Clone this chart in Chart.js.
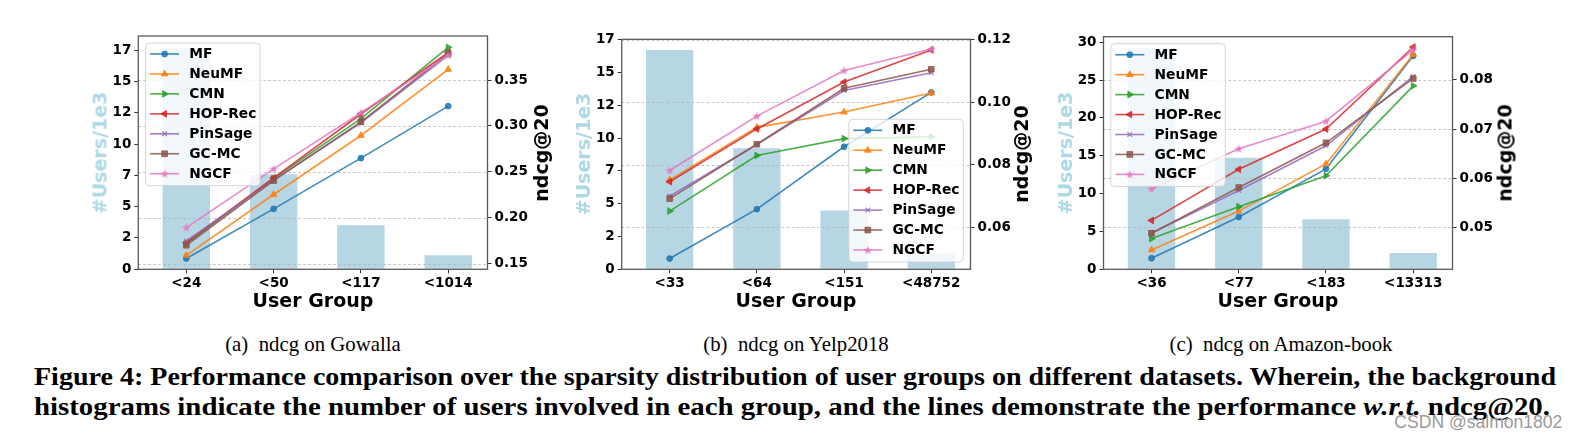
<!DOCTYPE html>
<html>
<head>
<meta charset="utf-8">
<script src="https://cdn.jsdelivr.net/npm/chart.js@4.4.1/dist/chart.umd.min.js"></script>
<style>
html,body{margin:0;padding:0;background:#fff;}
body{width:1584px;height:439px;position:relative;overflow:hidden;}
canvas{position:absolute;top:0;}
.ax{position:absolute;font-family:'DejaVu Sans';font-weight:bold;font-size:19px;white-space:nowrap;line-height:1;color:#000;}
.rot{transform:translate(-50%,-50%) rotate(-90deg);}
.hor{transform:translate(-50%,-50%);}
.users{color:#add8e6;}
.sub{position:absolute;font-family:'Liberation Serif';font-size:21px;white-space:nowrap;line-height:1;color:#000;}
.fig{position:absolute;font-family:'Liberation Serif';font-weight:bold;font-size:26px;white-space:nowrap;line-height:1;color:#000;transform-origin:0 50%;}
.wm{position:absolute;font-family:'Liberation Sans';font-size:18px;white-space:nowrap;line-height:1;color:#9a9a9a;transform-origin:100% 50%;}
</style>
</head>
<body>
<canvas id="c1" width="510" height="320" style="left:40px;width:510px;height:320px"></canvas>
<canvas id="c2" width="480" height="320" style="left:560px;width:480px;height:320px"></canvas>
<canvas id="c3" width="480" height="320" style="left:1045px;width:480px;height:320px"></canvas>

<div class="ax rot users" style="left:100px;top:152.5px">#Users/1e3</div>
<div class="ax rot" style="left:541px;top:152.5px">ndcg@20</div>
<div class="ax hor" style="left:313px;top:300px">User Group</div>

<div class="ax rot users" style="left:582.5px;top:154.3px">#Users/1e3</div>
<div class="ax rot" style="left:1021px;top:154.3px">ndcg@20</div>
<div class="ax hor" style="left:796px;top:300px">User Group</div>

<div class="ax rot users" style="left:1065px;top:153px">#Users/1e3</div>
<div class="ax rot" style="left:1504.5px;top:153px">ndcg@20</div>
<div class="ax hor" style="left:1278px;top:300px">User Group</div>

<div class="sub" id="subA" style="left:313px;top:343.5px">(a)&nbsp; ndcg on Gowalla</div>
<div class="sub" id="subB" style="left:796px;top:343.5px">(b)&nbsp; ndcg on Yelp2018</div>
<div class="sub" id="subC" style="left:1281px;top:343.5px">(c)&nbsp; ndcg on Amazon-book</div>

<div class="fig" id="fig1" style="left:34px;top:377px">Figure 4: Performance comparison over the sparsity distribution of user groups on different datasets. Wherein, the background</div>
<div class="fig" id="fig2" style="left:34px;top:407px">histograms indicate the number of users involved in each group, and the lines demonstrate the performance <i>w.r.t.</i> ndcg@20.</div>
<div class="wm" id="wm" style="right:22px;top:413px">CSDN @salmon1802</div>

<script>
// ---------------- data ----------------
const methodNames = ['MF', 'NeuMF', 'CMN', 'HOP-Rec', 'PinSage', 'GC-MC', 'NGCF'];

// (a) Gowalla
const gowallaGroups = ['<24', '<50', '<117', '<1014'];
const gowallaUsers = [17.13, 7.37, 3.42, 1.09];
const gowallaMF      = [0.1555, 0.2096, 0.2649, 0.3216];
const gowallaNeuMF   = [0.1590, 0.2253, 0.2896, 0.3616];
const gowallaCMN     = [0.1718, 0.2427, 0.3080, 0.3856];
const gowallaHOPRec  = [0.1730, 0.2435, 0.3130, 0.3800];
const gowallaPinSage = [0.1747, 0.2410, 0.3035, 0.3770];
const gowallaGCMC    = [0.1700, 0.2405, 0.3045, 0.3790];
const gowallaNGCF    = [0.1893, 0.2533, 0.3144, 0.3770];
const gowallaUserTicks = [0, 2.43, 4.86, 7.29, 9.71, 12.14, 14.57, 17];
const gowallaUserTickLabels = ['0', '2', '5', '7', '10', '12', '15', '17'];
const gowallaNdcgTicks = [0.15, 0.20, 0.25, 0.30, 0.35];

// (b) Yelp2018
const yelpGroups = ['<33', '<64', '<151', '<48752'];
const yelpUsers = [16.26, 8.97, 4.35, 1.19];
const yelpMF      = [0.0500, 0.0658, 0.0858, 0.1032];
const yelpNeuMF   = [0.0752, 0.0920, 0.0969, 0.1030];
const yelpCMN     = [0.0652, 0.0830, 0.0884, 0.0890];
const yelpHOPRec  = [0.0746, 0.0915, 0.1065, 0.1168];
const yelpPinSage = [0.0700, 0.0865, 0.1038, 0.1095];
const yelpGCMC    = [0.0692, 0.0866, 0.1045, 0.1106];
const yelpNGCF    = [0.0782, 0.0956, 0.1102, 0.1171];
const yelpUserTicks = [0, 2.43, 4.86, 7.29, 9.71, 12.14, 14.57, 17];
const yelpUserTickLabels = ['0', '2', '5', '7', '10', '12', '15', '17'];
const yelpNdcgTicks = [0.06, 0.08, 0.10, 0.12];

// (c) Amazon-book
const amazonGroups = ['<36', '<77', '<183', '<13313'];
const amazonUsers = [29.2, 14.75, 6.6, 2.15];
const amazonMF      = [0.0437, 0.0521, 0.0619, 0.0849];
const amazonNeuMF   = [0.0454, 0.0533, 0.0629, 0.0852];
const amazonCMN     = [0.0477, 0.0542, 0.0605, 0.0788];
const amazonHOPRec  = [0.0514, 0.0618, 0.0700, 0.0867];
const amazonPinSage = [0.0488, 0.0575, 0.0666, 0.0807];
const amazonGCMC    = [0.0488, 0.0581, 0.0672, 0.0803];
const amazonNGCF    = [0.0578, 0.0660, 0.0716, 0.0861];
const amazonUserTicks = [0, 5, 10, 15, 20, 25, 30];
const amazonUserTickLabels = ['0', '5', '10', '15', '20', '25', '30'];
const amazonNdcgTicks = [0.05, 0.06, 0.07, 0.08];

// ---------------- styles ----------------
const lineColors = ['rgba(31,119,180,0.85)', 'rgba(255,127,14,0.85)', 'rgba(44,160,44,0.85)',
  'rgba(214,39,40,0.85)', 'rgba(148,103,189,0.85)', 'rgba(140,86,75,0.85)', 'rgba(227,119,194,0.85)'];

function makeStar(color) {
  const c = document.createElement('canvas');
  c.width = 10; c.height = 10;
  const x = c.getContext('2d');
  x.fillStyle = color;
  x.beginPath();
  for (let i = 0; i < 10; i++) {
    const r = i % 2 ? 1.9 : 4.6;
    const a = -Math.PI / 2 + i * Math.PI / 5;
    x.lineTo(5 + r * Math.cos(a), 5.4 + r * Math.sin(a));
  }
  x.closePath();
  x.fill();
  return c;
}
const starImg = makeStar(lineColors[6]);

const markerStyles = [
  { pointStyle: 'circle', radius: 2.9, rotation: 0, bw: 1 },
  { pointStyle: 'triangle', radius: 3.8, rotation: 0, bw: 1 },
  { pointStyle: 'triangle', radius: 3.8, rotation: 90, bw: 1 },
  { pointStyle: 'triangle', radius: 3.8, rotation: -90, bw: 1 },
  { pointStyle: 'crossRot', radius: 3.3, rotation: 0, bw: 1.2 },
  { pointStyle: 'rect', radius: 4, rotation: 0, bw: 1 },
  { pointStyle: starImg, radius: 4, rotation: 0, bw: 0 }
];

const tickFont = { family: 'DejaVu Sans', size: 13.5, weight: 'bold' };

function drawLegend(chart, loc) {
  const ctx = chart.ctx, ca = chart.chartArea;
  const bw = 114.5, bh = 142.7;
  const bx = loc === 'lr' ? ca.right - 7.2 - bw : ca.left + 7.3;
  const by = loc === 'lr' ? ca.bottom - 7.3 - bh : ca.top + 7;
  ctx.save();
  ctx.beginPath();
  ctx.roundRect(bx, by, bw, bh, 4);
  ctx.fillStyle = 'rgba(255,255,255,0.8)';
  ctx.fill();
  ctx.strokeStyle = 'rgba(204,204,204,0.8)';
  ctx.lineWidth = 1;
  ctx.stroke();
  ctx.font = 'bold 13.8px "DejaVu Sans"';
  ctx.textBaseline = 'middle';
  ctx.textAlign = 'left';
  let k = 0;
  chart.data.datasets.forEach((ds) => {
    if (ds.type !== 'line') return;
    const y = by + 11 + k * 19.95;
    const ms = markerStyles[k];
    ctx.strokeStyle = ds.borderColor;
    ctx.lineWidth = 1.6;
    ctx.setLineDash([]);
    ctx.beginPath();
    ctx.moveTo(bx + 4.5, y);
    ctx.lineTo(bx + 33.5, y);
    ctx.stroke();
    ctx.fillStyle = ds.borderColor;
    ctx.lineWidth = ms.bw;
    Chart.helpers.drawPoint(ctx, { pointStyle: ms.pointStyle, radius: ms.radius, rotation: ms.rotation, borderWidth: ms.bw }, bx + 19, y);
    ctx.fillStyle = '#000';
    ctx.fillText(ds.label, bx + 43.7, y + 0.5);
    k++;
  });
  ctx.restore();
}

const framePlugin = {
  id: 'frame',
  afterDatasetDraw(chart, args) {
    if (args.meta.type !== 'bar') return;
    const y2 = chart.scales.y2, ca = chart.chartArea, ctx = chart.ctx;
    ctx.save();
    ctx.strokeStyle = 'rgba(176,176,176,0.8)';
    ctx.lineWidth = 1;
    ctx.setLineDash([2.5, 2.5]);
    y2.ticks.forEach(t => {
      const py = Math.round(y2.getPixelForValue(t.value)) + 0.5;
      ctx.beginPath();
      ctx.moveTo(ca.left, py);
      ctx.lineTo(ca.right, py);
      ctx.stroke();
    });
    ctx.restore();
  },
  afterDraw(chart, args, opts) {
    const ctx = chart.ctx, ca = chart.chartArea;
    ctx.save();
    ctx.strokeStyle = '#5a5a5a';
    ctx.lineWidth = 1.3;
    ctx.strokeRect(ca.left, ca.top, ca.right - ca.left, ca.bottom - ca.top);
    ctx.restore();
    drawLegend(chart, opts.loc);
  }
};

function makePanel(id, groups, users, series, cfg) {
  const datasets = [{
    type: 'bar',
    label: 'users',
    data: users.map((u, i) => ({ x: i, y: u })),
    xAxisID: 'x', yAxisID: 'y',
    backgroundColor: '#b7d6e4',
    borderWidth: 0,
    categoryPercentage: 1,
    barPercentage: 0.543,
    order: 20
  }];
  series.forEach((s, k) => {
    const ms = markerStyles[k];
    datasets.push({
      type: 'line',
      label: methodNames[k],
      data: s.map((v, i) => ({ x: i, y: v })),
      xAxisID: 'x', yAxisID: 'y2',
      borderColor: lineColors[k],
      backgroundColor: lineColors[k],
      pointBackgroundColor: lineColors[k],
      pointBorderColor: lineColors[k],
      borderWidth: 1.6,
      pointStyle: ms.pointStyle,
      pointRadius: ms.radius,
      pointRotation: ms.rotation,
      pointBorderWidth: ms.bw,
      tension: 0,
      fill: false,
      order: 10 - k
    });
  });
  return new Chart(document.getElementById(id), {
    type: 'line',
    data: { datasets },
    plugins: [framePlugin],
    options: {
      responsive: false,
      animation: false,
      devicePixelRatio: 1,
      events: [],
      layout: { padding: { top: cfg.top, left: 0, right: 0, bottom: 0 } },
      plugins: { legend: { display: false }, tooltip: { enabled: false }, frame: { loc: cfg.loc } },
      scales: {
        x: {
          type: 'linear', position: 'bottom', min: -0.55, max: 3.45, offset: false,
          afterBuildTicks: s => { s.ticks = groups.map((g, i) => ({ value: i })); },
          afterFit: s => { s.height = 50.7; },
          ticks: { callback: v => groups[v], font: tickFont, color: '#000', padding: 2, autoSkip: false, maxRotation: 0 },
          grid: { drawOnChartArea: false, drawTicks: true, tickLength: 4, color: '#333', offset: false },
          border: { display: false }
        },
        y: {
          type: 'linear', position: 'left', min: 0, max: cfg.leftMax,
          afterBuildTicks: s => { s.ticks = cfg.leftTicks.map(v => ({ value: v })); },
          afterFit: s => { s.width = cfg.leftW; },
          ticks: { callback: (v, i) => cfg.leftLabels[i], font: tickFont, color: '#000', padding: 3, autoSkip: false },
          grid: { drawOnChartArea: false, drawTicks: true, tickLength: 4, color: '#333' },
          border: { display: false }
        },
        y2: {
          type: 'linear', position: 'right', min: cfg.rMin, max: cfg.rMax,
          afterBuildTicks: s => { s.ticks = cfg.rightTicks.map(v => ({ value: v })); },
          afterFit: s => { s.width = cfg.rightW; },
          ticks: { callback: v => v.toFixed(2), font: tickFont, color: '#000', padding: 3, autoSkip: false },
          grid: { drawOnChartArea: false, drawTicks: true, tickLength: 4, color: '#333' },
          border: { display: false }
        }
      }
    }
  });
}

makePanel('c1', gowallaGroups, gowallaUsers,
  [gowallaMF, gowallaNeuMF, gowallaCMN, gowallaHOPRec, gowallaPinSage, gowallaGCMC, gowallaNGCF],
  { top: 36, loc: 'ul', leftMax: 18.1, leftTicks: gowallaUserTicks, leftLabels: gowallaUserTickLabels,
    rMin: 0.1438, rMax: 0.398, rightTicks: gowallaNdcgTicks, leftW: 98.3, rightW: 62.5 });

makePanel('c2', yelpGroups, yelpUsers,
  [yelpMF, yelpNeuMF, yelpCMN, yelpHOPRec, yelpPinSage, yelpGCMC, yelpNGCF],
  { top: 39.3, loc: 'lr', leftMax: 17.05, leftTicks: yelpUserTicks, leftLabels: yelpUserTickLabels,
    rMin: 0.04655, rMax: 0.1202, rightTicks: yelpNdcgTicks, leftW: 61.7, rightW: 69.5 });

makePanel('c3', amazonGroups, amazonUsers,
  [amazonMF, amazonNeuMF, amazonCMN, amazonHOPRec, amazonPinSage, amazonGCMC, amazonNGCF],
  { top: 36.7, loc: 'ul', leftMax: 30.74, leftTicks: amazonUserTicks, leftLabels: amazonUserTickLabels,
    rMin: 0.04145, rMax: 0.0888, rightTicks: amazonNdcgTicks, leftW: 58.5, rightW: 72.5 });

// ---------------- caption fitting ----------------
function fitCentered(el, s) { el.style.transform = 'translate(-50%,-50%) scaleX(' + s + ')'; }
const subC = document.getElementById('subC');
const subScale = 223 / subC.getBoundingClientRect().width;
['subA', 'subB', 'subC'].forEach(id => fitCentered(document.getElementById(id), subScale));

const f1 = document.getElementById('fig1'), f2 = document.getElementById('fig2');
f1.style.transform = 'translateY(-50%) scaleX(' + (1522 / f1.getBoundingClientRect().width) + ')';
f2.style.transform = 'translateY(-50%) scaleX(' + (1516 / f2.getBoundingClientRect().width) + ')';
const wm = document.getElementById('wm');
wm.style.transform = 'scaleX(' + (168 / wm.getBoundingClientRect().width) + ')';
</script>
</body>
</html>
